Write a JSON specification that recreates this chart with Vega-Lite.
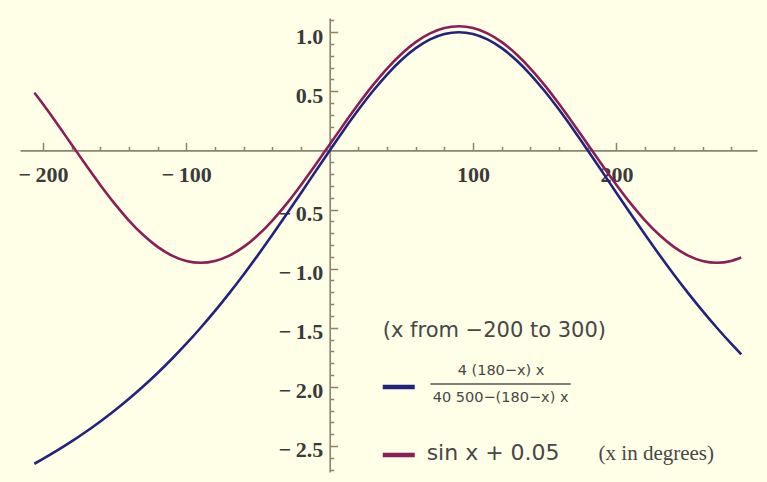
{
  "$schema": "https://vega.github.io/schema/vega-lite/v6.json",
  "width": 737,
  "height": 454,
  "autosize": {"type": "none"},
  "padding": {"left": 20, "top": 18, "right": 10, "bottom": 10},
  "background": "#FFFEE6",
  "config": {"view": {"stroke": null}},
  "datasets": {
    "curves": [
      {"x": -206, "y": -2.6502, "s": "4(180−x)x / (40500−(180−x)x)"},
      {"x": -200, "y": -2.6094, "s": "4(180−x)x / (40500−(180−x)x)"},
      {"x": -190, "y": -2.5379, "s": "4(180−x)x / (40500−(180−x)x)"},
      {"x": -180, "y": -2.4615, "s": "4(180−x)x / (40500−(180−x)x)"},
      {"x": -170, "y": -2.38, "s": "4(180−x)x / (40500−(180−x)x)"},
      {"x": -160, "y": -2.2929, "s": "4(180−x)x / (40500−(180−x)x)"},
      {"x": -150, "y": -2.2, "s": "4(180−x)x / (40500−(180−x)x)"},
      {"x": -140, "y": -2.1008, "s": "4(180−x)x / (40500−(180−x)x)"},
      {"x": -130, "y": -1.995, "s": "4(180−x)x / (40500−(180−x)x)"},
      {"x": -120, "y": -1.8824, "s": "4(180−x)x / (40500−(180−x)x)"},
      {"x": -110, "y": -1.7624, "s": "4(180−x)x / (40500−(180−x)x)"},
      {"x": -100, "y": -1.635, "s": "4(180−x)x / (40500−(180−x)x)"},
      {"x": -90, "y": -1.5, "s": "4(180−x)x / (40500−(180−x)x)"},
      {"x": -80, "y": -1.3573, "s": "4(180−x)x / (40500−(180−x)x)"},
      {"x": -70, "y": -1.2069, "s": "4(180−x)x / (40500−(180−x)x)"},
      {"x": -60, "y": -1.0492, "s": "4(180−x)x / (40500−(180−x)x)"},
      {"x": -50, "y": -0.8846, "s": "4(180−x)x / (40500−(180−x)x)"},
      {"x": -40, "y": -0.714, "s": "4(180−x)x / (40500−(180−x)x)"},
      {"x": -30, "y": -0.5385, "s": "4(180−x)x / (40500−(180−x)x)"},
      {"x": -20, "y": -0.3596, "s": "4(180−x)x / (40500−(180−x)x)"},
      {"x": -10, "y": -0.1792, "s": "4(180−x)x / (40500−(180−x)x)"},
      {"x": 0, "y": 0, "s": "4(180−x)x / (40500−(180−x)x)"},
      {"x": 10, "y": 0.1753, "s": "4(180−x)x / (40500−(180−x)x)"},
      {"x": 20, "y": 0.3432, "s": "4(180−x)x / (40500−(180−x)x)"},
      {"x": 30, "y": 0.5, "s": "4(180−x)x / (40500−(180−x)x)"},
      {"x": 40, "y": 0.6418, "s": "4(180−x)x / (40500−(180−x)x)"},
      {"x": 50, "y": 0.7647, "s": "4(180−x)x / (40500−(180−x)x)"},
      {"x": 60, "y": 0.8649, "s": "4(180−x)x / (40500−(180−x)x)"},
      {"x": 70, "y": 0.939, "s": "4(180−x)x / (40500−(180−x)x)"},
      {"x": 80, "y": 0.9846, "s": "4(180−x)x / (40500−(180−x)x)"},
      {"x": 90, "y": 1.0, "s": "4(180−x)x / (40500−(180−x)x)"},
      {"x": 100, "y": 0.9846, "s": "4(180−x)x / (40500−(180−x)x)"},
      {"x": 110, "y": 0.939, "s": "4(180−x)x / (40500−(180−x)x)"},
      {"x": 120, "y": 0.8649, "s": "4(180−x)x / (40500−(180−x)x)"},
      {"x": 130, "y": 0.7647, "s": "4(180−x)x / (40500−(180−x)x)"},
      {"x": 140, "y": 0.6418, "s": "4(180−x)x / (40500−(180−x)x)"},
      {"x": 150, "y": 0.5, "s": "4(180−x)x / (40500−(180−x)x)"},
      {"x": 160, "y": 0.3432, "s": "4(180−x)x / (40500−(180−x)x)"},
      {"x": 170, "y": 0.1753, "s": "4(180−x)x / (40500−(180−x)x)"},
      {"x": 180, "y": 0, "s": "4(180−x)x / (40500−(180−x)x)"},
      {"x": 190, "y": -0.1792, "s": "4(180−x)x / (40500−(180−x)x)"},
      {"x": 200, "y": -0.3596, "s": "4(180−x)x / (40500−(180−x)x)"},
      {"x": 210, "y": -0.5385, "s": "4(180−x)x / (40500−(180−x)x)"},
      {"x": 220, "y": -0.714, "s": "4(180−x)x / (40500−(180−x)x)"},
      {"x": 230, "y": -0.8846, "s": "4(180−x)x / (40500−(180−x)x)"},
      {"x": 240, "y": -1.0492, "s": "4(180−x)x / (40500−(180−x)x)"},
      {"x": 250, "y": -1.2069, "s": "4(180−x)x / (40500−(180−x)x)"},
      {"x": 260, "y": -1.3573, "s": "4(180−x)x / (40500−(180−x)x)"},
      {"x": 270, "y": -1.5, "s": "4(180−x)x / (40500−(180−x)x)"},
      {"x": 280, "y": -1.635, "s": "4(180−x)x / (40500−(180−x)x)"},
      {"x": 287, "y": -1.725, "s": "4(180−x)x / (40500−(180−x)x)"},
      {"x": -206, "y": 0.4884, "s": "sin x + 0.05"},
      {"x": -200, "y": 0.392, "s": "sin x + 0.05"},
      {"x": -190, "y": 0.2237, "s": "sin x + 0.05"},
      {"x": -180, "y": 0.05, "s": "sin x + 0.05"},
      {"x": -170, "y": -0.1237, "s": "sin x + 0.05"},
      {"x": -160, "y": -0.292, "s": "sin x + 0.05"},
      {"x": -150, "y": -0.45, "s": "sin x + 0.05"},
      {"x": -140, "y": -0.5928, "s": "sin x + 0.05"},
      {"x": -130, "y": -0.716, "s": "sin x + 0.05"},
      {"x": -120, "y": -0.816, "s": "sin x + 0.05"},
      {"x": -110, "y": -0.8897, "s": "sin x + 0.05"},
      {"x": -100, "y": -0.9348, "s": "sin x + 0.05"},
      {"x": -90, "y": -0.95, "s": "sin x + 0.05"},
      {"x": -80, "y": -0.9348, "s": "sin x + 0.05"},
      {"x": -70, "y": -0.8897, "s": "sin x + 0.05"},
      {"x": -60, "y": -0.816, "s": "sin x + 0.05"},
      {"x": -50, "y": -0.716, "s": "sin x + 0.05"},
      {"x": -40, "y": -0.5928, "s": "sin x + 0.05"},
      {"x": -30, "y": -0.45, "s": "sin x + 0.05"},
      {"x": -20, "y": -0.292, "s": "sin x + 0.05"},
      {"x": -10, "y": -0.1237, "s": "sin x + 0.05"},
      {"x": 0, "y": 0.05, "s": "sin x + 0.05"},
      {"x": 10, "y": 0.2237, "s": "sin x + 0.05"},
      {"x": 20, "y": 0.392, "s": "sin x + 0.05"},
      {"x": 30, "y": 0.55, "s": "sin x + 0.05"},
      {"x": 40, "y": 0.6928, "s": "sin x + 0.05"},
      {"x": 50, "y": 0.816, "s": "sin x + 0.05"},
      {"x": 60, "y": 0.916, "s": "sin x + 0.05"},
      {"x": 70, "y": 0.9897, "s": "sin x + 0.05"},
      {"x": 80, "y": 1.0348, "s": "sin x + 0.05"},
      {"x": 90, "y": 1.05, "s": "sin x + 0.05"},
      {"x": 100, "y": 1.0348, "s": "sin x + 0.05"},
      {"x": 110, "y": 0.9897, "s": "sin x + 0.05"},
      {"x": 120, "y": 0.916, "s": "sin x + 0.05"},
      {"x": 130, "y": 0.816, "s": "sin x + 0.05"},
      {"x": 140, "y": 0.6928, "s": "sin x + 0.05"},
      {"x": 150, "y": 0.55, "s": "sin x + 0.05"},
      {"x": 160, "y": 0.392, "s": "sin x + 0.05"},
      {"x": 170, "y": 0.2237, "s": "sin x + 0.05"},
      {"x": 180, "y": 0.05, "s": "sin x + 0.05"},
      {"x": 190, "y": -0.1237, "s": "sin x + 0.05"},
      {"x": 200, "y": -0.292, "s": "sin x + 0.05"},
      {"x": 210, "y": -0.45, "s": "sin x + 0.05"},
      {"x": 220, "y": -0.5928, "s": "sin x + 0.05"},
      {"x": 230, "y": -0.716, "s": "sin x + 0.05"},
      {"x": 240, "y": -0.816, "s": "sin x + 0.05"},
      {"x": 250, "y": -0.8897, "s": "sin x + 0.05"},
      {"x": 260, "y": -0.9348, "s": "sin x + 0.05"},
      {"x": 270, "y": -0.95, "s": "sin x + 0.05"},
      {"x": 280, "y": -0.9348, "s": "sin x + 0.05"},
      {"x": 287, "y": -0.9063, "s": "sin x + 0.05"}
    ]
  },
  "layer": [
    {
      "data": {"name": "curves"},
      "mark": {"type": "line", "strokeWidth": 2.6, "interpolate": "monotone"},
      "encoding": {
        "x": {
          "field": "x", "type": "quantitative",
          "scale": {"domain": [-216, 298], "nice": false, "zero": false},
          "axis": {
            "orient": "bottom", "offset": -321.6, "title": null, "grid": false,
            "tickCount": 200,
            "values": [-200, -180, -160, -140, -120, -100, -80, -60, -40, -20, 20, 40, 60, 80, 100, 120, 140, 160, 180, 200, 220, 240, 260, 280],
            "domainColor": "#8a846f", "domainWidth": 1.6,
            "tickColor": "#8a846f", "tickWidth": 1.5,
            "tickSize": {"condition": {"test": "datum.value % 100 === 0", "value": -8}, "value": -4},
            "labelExpr": "datum.value % 100 === 0 ? (datum.value < 0 ? '−\u2009' + abs(datum.value) : '' + datum.value) : ''",
            "labelFont": "Liberation Serif", "labelFontSize": 22, "labelFontWeight": "bold",
            "labelColor": "#3a3a3a", "labelPadding": 22, "labelBaseline": "top",
            "labelOverlap": false, "labelFlush": false
          }
        },
        "y": {
          "field": "y", "type": "quantitative",
          "scale": {"domain": [-2.72, 1.12], "nice": false, "zero": false},
          "axis": {
            "orient": "left", "offset": -309.7, "title": null, "grid": false,
            "tickCount": 200,
            "values": [1.1, 1.0, 0.9, 0.8, 0.7, 0.6, 0.5, 0.4, 0.3, 0.2, 0.1, -0.1, -0.2, -0.3, -0.4, -0.5, -0.6, -0.7, -0.8, -0.9, -1.0, -1.1, -1.2, -1.3, -1.4, -1.5, -1.6, -1.7, -1.8, -1.9, -2.0, -2.1, -2.2, -2.3, -2.4, -2.5, -2.6, -2.7],
            "domainColor": "#8a846f", "domainWidth": 1.6,
            "tickColor": "#8a846f", "tickWidth": 1.5,
            "tickSize": {"condition": {"test": "abs(datum.value * 2 - round(datum.value * 2)) < 0.001", "value": -8}, "value": -4},
            "labelExpr": "abs(datum.value * 2 - round(datum.value * 2)) < 0.001 ? (datum.value < 0 ? '−\u2009' + format(abs(datum.value), '.1f') : format(datum.value, '.1f')) : ''",
            "labelFont": "Liberation Serif", "labelFontSize": 22, "labelFontWeight": "bold",
            "labelColor": "#3a3a3a", "labelPadding": 15, "labelBaseline": "middle", "labelOffset": 4,
            "labelOverlap": false, "labelFlush": false
          }
        },
        "color": {
          "field": "s", "type": "nominal", "legend": null,
          "scale": {"domain": ["4(180−x)x / (40500−(180−x)x)", "sin x + 0.05"], "range": ["#23237f", "#8a1f58"]}
        }
      }
    },
    {
      "data": {"values": [{"t": "(x from −200 to 300)"}]},
      "mark": {"type": "text", "align": "left", "baseline": "alphabetic", "font": "DejaVu Sans", "fontSize": 21, "color": "#474747"},
      "encoding": {"x": {"datum": 37}, "y": {"datum": -1.576}, "text": {"field": "t"}}
    },
    {
      "data": {"values": [{"t": "4 (180−x) x"}]},
      "mark": {"type": "text", "align": "center", "baseline": "alphabetic", "font": "DejaVu Sans", "fontSize": 14.5, "color": "#474747"},
      "encoding": {"x": {"datum": 119.5}, "y": {"datum": -1.9}, "text": {"field": "t"}}
    },
    {
      "data": {"values": [{"t": "40 500−(180−x) x"}]},
      "mark": {"type": "text", "align": "center", "baseline": "alphabetic", "font": "DejaVu Sans", "fontSize": 14.5, "color": "#474747"},
      "encoding": {"x": {"datum": 119.2}, "y": {"datum": -2.125}, "text": {"field": "t"}}
    },
    {
      "data": {"values": [{"t": "fraction bar"}]},
      "mark": {"type": "rule", "strokeWidth": 1.5, "color": "#555555"},
      "encoding": {"x": {"datum": 70.3}, "x2": {"datum": 168}, "y": {"datum": -1.975}}
    },
    {
      "data": {"values": [{"t": "sin x + 0.05"}]},
      "mark": {"type": "text", "align": "left", "baseline": "alphabetic", "font": "DejaVu Sans", "fontSize": 22, "color": "#474747"},
      "encoding": {"x": {"datum": 67.6}, "y": {"datum": -2.62}, "text": {"field": "t"}}
    },
    {
      "data": {"values": [{"t": "(x in degrees)"}]},
      "mark": {"type": "text", "align": "left", "baseline": "alphabetic", "font": "Liberation Serif", "fontSize": 21, "color": "#474747"},
      "encoding": {"x": {"datum": 187.5}, "y": {"datum": -2.62}, "text": {"field": "t"}}
    },
    {
      "data": {"values": [{"s": "4(180−x)x / (40500−(180−x)x)", "ly": -2.0}, {"s": "sin x + 0.05", "ly": -2.577}]},
      "mark": {"type": "rule", "strokeWidth": 4.5},
      "encoding": {
        "x": {"datum": 37}, "x2": {"datum": 59.3},
        "y": {"field": "ly", "type": "quantitative"},
        "color": {"field": "s", "type": "nominal", "legend": null}
      }
    }
  ]
}
